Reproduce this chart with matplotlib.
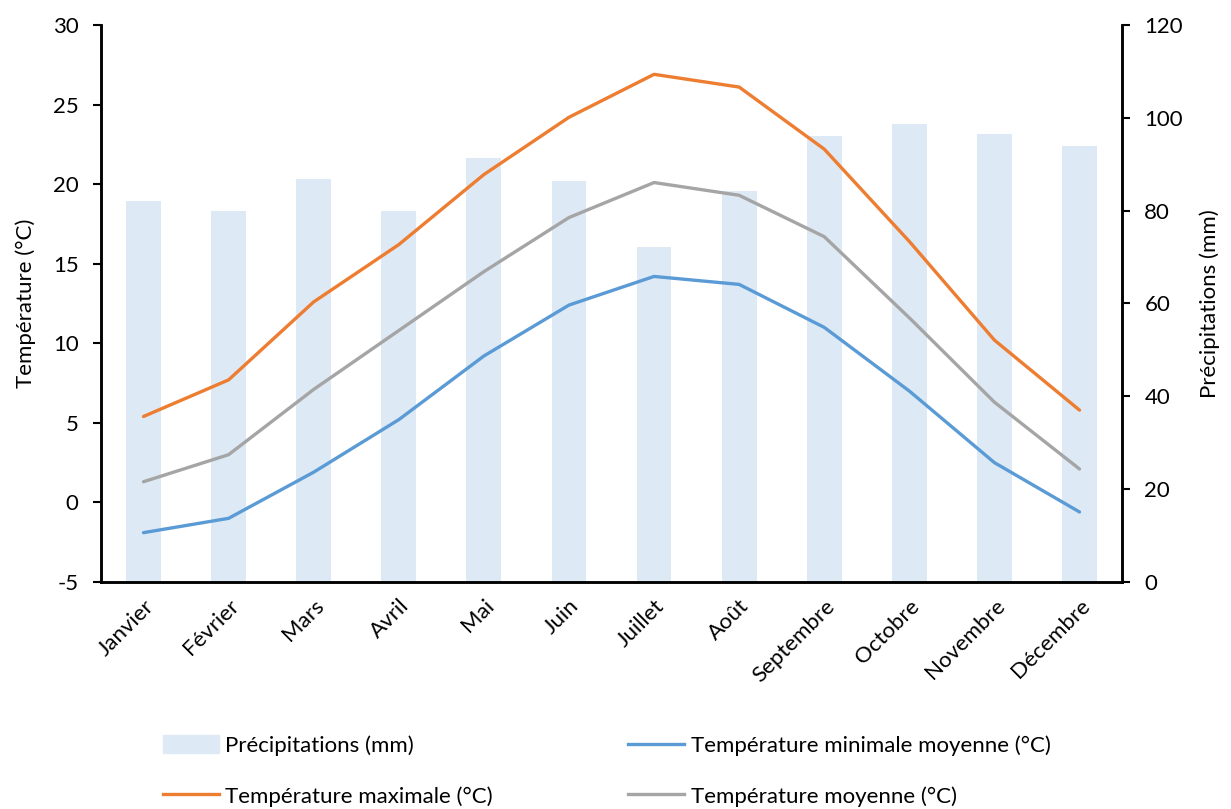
import numpy as np
import matplotlib.pyplot as plt
from matplotlib.patches import Patch
from matplotlib.lines import Line2D

plt.rcParams['font.family'] = ['Lato', 'DejaVu Sans']
plt.rcParams['axes.unicode_minus'] = False

# Monthly climate data
months = ['Janvier', 'Février', 'Mars', 'Avril', 'Mai', 'Juin', 'Juillet',
          'Août', 'Septembre', 'Octobre', 'Novembre', 'Décembre']
precip = [82.1, 80.0, 86.9, 80.0, 91.4, 86.3, 72.2, 84.2, 96.1, 98.7, 96.5, 93.9]
t_min = [-1.9, -1.0, 1.9, 5.2, 9.2, 12.4, 14.2, 13.7, 11.0, 7.0, 2.5, -0.6]
t_max = [5.4, 7.7, 12.6, 16.2, 20.6, 24.2, 26.9, 26.1, 22.2, 16.4, 10.2, 5.8]
t_moy = [1.3, 3.0, 7.1, 10.8, 14.5, 17.9, 20.1, 19.3, 16.7, 11.6, 6.3, 2.1]

c_bar = '#DDEAF6'
c_min = '#5B9BD5'
c_max = '#ED7D31'
c_moy = '#A5A5A5'

fs = 16
x = np.arange(len(months))

fig = plt.figure(figsize=(12.31, 8.09), dpi=100)
ax = fig.add_axes([0.082, 0.2806, 0.8295, 0.6885])
ax2 = ax.twinx()

# bars on right axis, drawn behind the lines
ax2.bar(x, precip, width=0.41, color=c_bar, zorder=1)
ax.set_zorder(ax2.get_zorder() + 1)
ax.patch.set_visible(False)

lw = 2.4
for vals, col in [(t_min, c_min), (t_max, c_max), (t_moy, c_moy)]:
    ax.plot(x, vals, color=col, lw=lw, solid_capstyle='round', solid_joinstyle='round')

ax.set_xlim(-0.5, 11.5)
ax.set_ylim(-5, 30)
ax.set_yticks(np.arange(-5, 31, 5))
ax2.set_ylim(0, 120)
ax2.set_yticks(np.arange(0, 121, 20))

ax.set_xticks(x)
ax.set_xticklabels(months, rotation=45, ha='right', rotation_mode='anchor', fontsize=fs)
ax.tick_params(axis='x', length=0, pad=10)
ax.tick_params(axis='y', length=6, width=1.5, labelsize=fs, pad=10)
ax2.tick_params(axis='y', length=6, width=1.5, labelsize=fs, pad=10)

for a in (ax, ax2):
    a.spines['top'].set_visible(False)
    for s in ('left', 'right', 'bottom'):
        a.spines[s].set_linewidth(1.8)

ax.set_ylabel('Température (°C)', fontsize=fs, labelpad=12)
ax2.set_ylabel('Précipitations (mm)', fontsize=fs, labelpad=12)

handles = [Patch(color=c_bar),
           Line2D([], [], color=c_max, lw=lw),
           Line2D([], [], color=c_min, lw=lw),
           Line2D([], [], color=c_moy, lw=lw)]
labels = ['Précipitations (mm)', 'Température maximale (°C)',
          'Température minimale moyenne (°C)', 'Température moyenne (°C)']
fig.legend(handles, labels, loc='center left', bbox_to_anchor=(0.1324, 0.047), ncol=2,
           frameon=False, fontsize=fs, handlelength=2.5, handleheight=0.85,
           handletextpad=0.3, columnspacing=6.1, labelspacing=1.35,
           borderpad=0, borderaxespad=0)

fig.savefig('out.png', dpi=100)
